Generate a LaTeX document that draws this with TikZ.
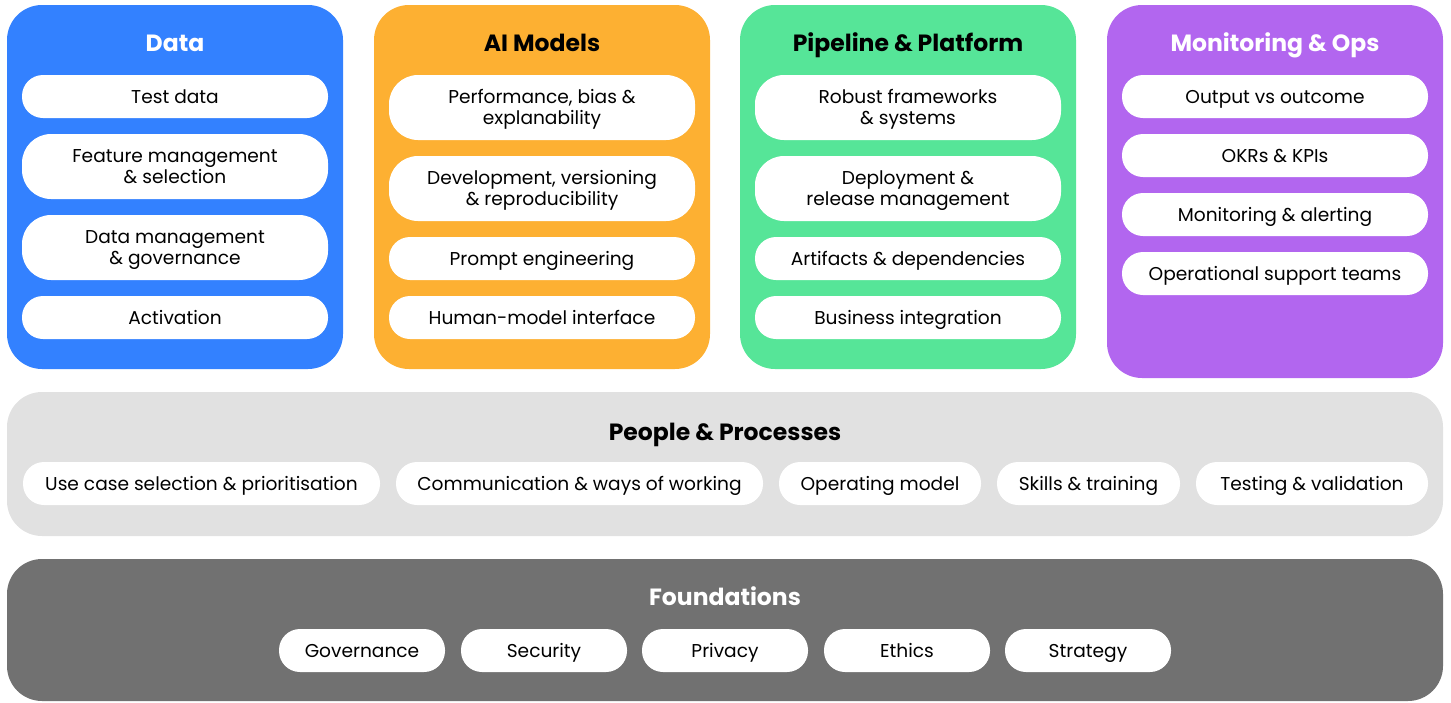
\documentclass[tikz,border=0pt]{standalone}
\usepackage{fontspec}
\setmainfont{Poppins}
\definecolor{datablue}{HTML}{3381FF}
\definecolor{aiorange}{HTML}{FDB032}
\definecolor{pipegreen}{HTML}{56E598}
\definecolor{monviolet}{HTML}{B266EF}
\definecolor{peoplegrey}{HTML}{E1E1E1}
\definecolor{foundgrey}{HTML}{717171}
\tikzset{
  panel/.style={rounded corners=35pt, inner sep=0pt, minimum width=336pt},
  pill/.style={fill=white, rounded corners=21pt, minimum width=306pt, minimum height=43pt,
    inner sep=0pt, align=center, text=black, font=\fontsize{18.6}{21.5}\selectfont,
    text height=13pt, text depth=0pt},
  tallpill/.style={pill, minimum height=65pt, rounded corners=29pt, text height=34.5pt},
  head/.style={font=\fontsize{23.5}{27}\selectfont\bfseries, text height=16.4pt, text depth=0pt, inner sep=0pt},
}
\begin{document}
\begin{tikzpicture}[x=1pt, y=-1pt]
            \useasboundingbox (0,0) rectangle (1451,702);
            % the four columns
            \node[panel, fill=datablue, minimum height=364pt] (data) at (175,187) {};
            \node[panel, fill=aiorange, minimum height=364pt] (models) at (542,187) {};
            \node[panel, fill=pipegreen, minimum height=364pt] (pipe) at (908,187) {};
            \node[panel, fill=monviolet, minimum height=373pt] (mon) at (1275,191.5) {};
            % Data
            \node[head, text=white] (datahead) at (175,43.5) {Data};
            \node[pill] (testdata) at (175,96.5) {Test data};
            \node[tallpill] (feature) at (175,166.5) {Feature management\\ \& selection};
            \node[tallpill] (datagov) at (175,247.5) {Data management\\ \& governance};
            \node[pill] (activation) at (175,317.5) {Activation};
            % AI models
            \node[head, text=black] (modelshead) at (542,43.5) {AI Models};
            \node[tallpill] (perf) at (542,107.5) {Performance, bias \&\\ explanability};
            \node[tallpill] (devel) at (542,188.5) {Development, versioning\\ \& reproducibility};
            \node[pill] (prompt) at (542,258.5) {Prompt engineering};
            \node[pill] (human) at (542,317.5) {Human-model interface};
            % Pipeline & platform
            \node[head, text=black] (pipehead) at (908,43.5) {Pipeline \& Platform};
            \node[tallpill] (robust) at (908,107.5) {Robust frameworks\\ \& systems};
            \node[tallpill] (deploy) at (908,188.5) {Deployment \&\\ release management};
            \node[pill] (artifacts) at (908,258.5) {Artifacts \& dependencies};
            \node[pill] (business) at (908,317.5) {Business integration};
            % Monitoring & ops
            \node[head, text=white] (monhead) at (1275,43.5) {Monitoring \& Ops};
            \node[pill] (output) at (1275,96.5) {Output vs outcome};
            \node[pill] (okrs) at (1275,155.5) {OKRs \& KPIs};
            \node[pill] (alerting) at (1275,214.5) {Monitoring \& alerting};
            \node[pill] (support) at (1275,273.5) {Operational support teams};
            % People & processes
            \node[panel, fill=peoplegrey, minimum width=1436pt, minimum height=144pt] (people) at (725,464) {};
            \node[head, text=black] (peoplehead) at (725,432) {People \& Processes};
            \node[pill, minimum width=357pt] (usecase) at (201.5,483.5) {Use case selection \& prioritisation};
            \node[pill, minimum width=367pt] (comms) at (579.5,483.5) {Communication \& ways of working};
            \node[pill, minimum width=202pt] (opmodel) at (880,483.5) {Operating model};
            \node[pill, minimum width=183pt] (skills) at (1088.5,483.5) {Skills \& training};
            \node[pill, minimum width=232pt] (testing) at (1312,483.5) {Testing \& validation};
            % Foundations
            \node[panel, fill=foundgrey, minimum width=1436pt, minimum height=142pt] (found) at (725,630) {};
            \node[head, text=white] (foundhead) at (725,597) {Foundations};
            \node[pill, minimum width=166pt] (governance) at (362,650.5) {Governance};
            \node[pill, minimum width=166pt] (security) at (544,650.5) {Security};
            \node[pill, minimum width=166pt] (privacy) at (725,650.5) {Privacy};
            \node[pill, minimum width=166pt] (ethics) at (907,650.5) {Ethics};
            \node[pill, minimum width=166pt] (strategy) at (1088,650.5) {Strategy};
          \end{tikzpicture}
\end{document}
